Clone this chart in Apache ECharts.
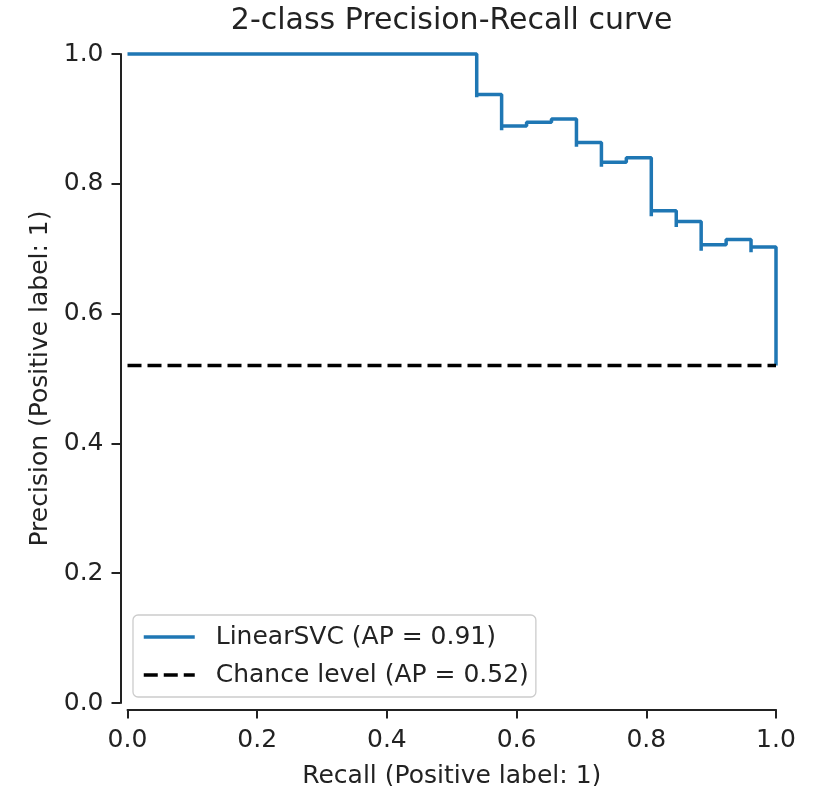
<!DOCTYPE html>
<html>
<head>
<meta charset="utf-8">
<script src="https://cdn.jsdelivr.net/npm/echarts@6/dist/echarts.min.js"></script>
<style>
html,body{margin:0;padding:0;background:#fff;}
#chart{width:820px;height:786px;}
</style>
</head>
<body>
<div id="chart"></div>
<script>
// Precision-recall curve points (ascending recall)
const recall = [0, 0.5385, 0.5385, 0.5769, 0.5769, 0.6154, 0.6538, 0.6923, 0.6923, 0.7308, 0.7308, 0.7692, 0.8077, 0.8077, 0.8462, 0.8462, 0.8846, 0.8846, 0.9231, 0.9615, 0.9615, 1.0, 1.0];
const precision = [1.0, 1.0, 0.9333, 0.9375, 0.8824, 0.8889, 0.8947, 0.9000, 0.8571, 0.8636, 0.8261, 0.8333, 0.8400, 0.7500, 0.7586, 0.7333, 0.7419, 0.6970, 0.7059, 0.7143, 0.6944, 0.7027, 0.5200];
// Chance level line
const chanceRecall = [0, 1];
const chancePrecision = [0.52, 0.52];
// Labels
const seriesNames = ['LinearSVC (AP = 0.91)', 'Chance level (AP = 0.52)'];
const titleText = '2-class Precision-Recall curve';
const xLabel = 'Recall (Positive label: 1)';
const yLabel = 'Precision (Positive label: 1)';
const tickValues = [0.0, 0.2, 0.4, 0.6, 0.8, 1.0];

const FONT = 'DejaVu Sans';
const TXT = '#222222';
const chart = echarts.init(document.getElementById('chart'), null, {renderer: 'canvas'});

const curveData = recall.map((r, i) => [r, precision[i]]);
const chanceData = chanceRecall.map((r, i) => [r, chancePrecision[i]]);

chart.setOption({
  animation: false,
  backgroundColor: '#ffffff',
  graphic: [{
    type: 'text',
    x: 451.7, y: 21,
    style: {text: titleText, fontFamily: FONT, fontSize: 30, fill: TXT, align: 'center', verticalAlign: 'middle'}
  }],
  grid: {left: 127.5, right: 44, top: 54, bottom: 83, containLabel: false, outerBoundsMode: 'none'},
  xAxis: {
    type: 'value', min: tickValues[0], max: tickValues[tickValues.length - 1], interval: 0.2,
    offset: 6.5,
    name: xLabel, nameLocation: 'middle', nameGap: 54.5,
    nameTextStyle: {fontFamily: FONT, fontSize: 25, color: TXT},
    axisLine: {show: true, onZero: false, lineStyle: {color: TXT, width: 2}},
    axisTick: {show: true, length: 9, lineStyle: {color: TXT, width: 2}},
    axisLabel: {fontFamily: FONT, fontSize: 25, color: TXT, margin: 18.5, formatter: v => v.toFixed(1)},
    splitLine: {show: false}
  },
  yAxis: {
    type: 'value', min: tickValues[0], max: tickValues[tickValues.length - 1], interval: 0.2,
    offset: 7,
    name: yLabel, nameLocation: 'middle', nameGap: 68, nameRotate: 90,
    nameTextStyle: {fontFamily: FONT, fontSize: 25, color: TXT},
    axisLine: {show: true, onZero: false, lineStyle: {color: TXT, width: 2}},
    axisTick: {show: true, length: 9, lineStyle: {color: TXT, width: 2}},
    axisLabel: {fontFamily: FONT, fontSize: 25, color: TXT, margin: 17, formatter: v => v.toFixed(1)},
    splitLine: {show: false}
  },
  legend: {
    orient: 'vertical', left: 133, top: 615,
    padding: [7, 7, 7, 9],
    itemWidth: 51, itemHeight: 14, itemGap: 8,
    itemStyle: {opacity: 0},
    lineStyle: {width: 3.5},
    backgroundColor: 'rgba(255,255,255,0.8)',
    borderColor: '#cccccc', borderWidth: 1.3, borderRadius: 5,
    textStyle: {fontFamily: FONT, fontSize: 25, color: TXT, lineHeight: 30, padding: [0, 0, 0, 16]},
    data: seriesNames
  },
  series: [
    {
      name: seriesNames[0], type: 'line', data: curveData, step: 'start',
      symbol: 'none', showSymbol: false, clip: false,
      lineStyle: {color: '#1f77b4', width: 3.5}, itemStyle: {color: '#1f77b4'}, z: 3
    },
    {
      name: seriesNames[1], type: 'line', data: chanceData,
      symbol: 'none', showSymbol: false, clip: false,
      lineStyle: {color: '#000000', width: 3.5, type: [14, 6]}, itemStyle: {color: '#000000'}, z: 4
    }
  ]
});
</script>
</body>
</html>
